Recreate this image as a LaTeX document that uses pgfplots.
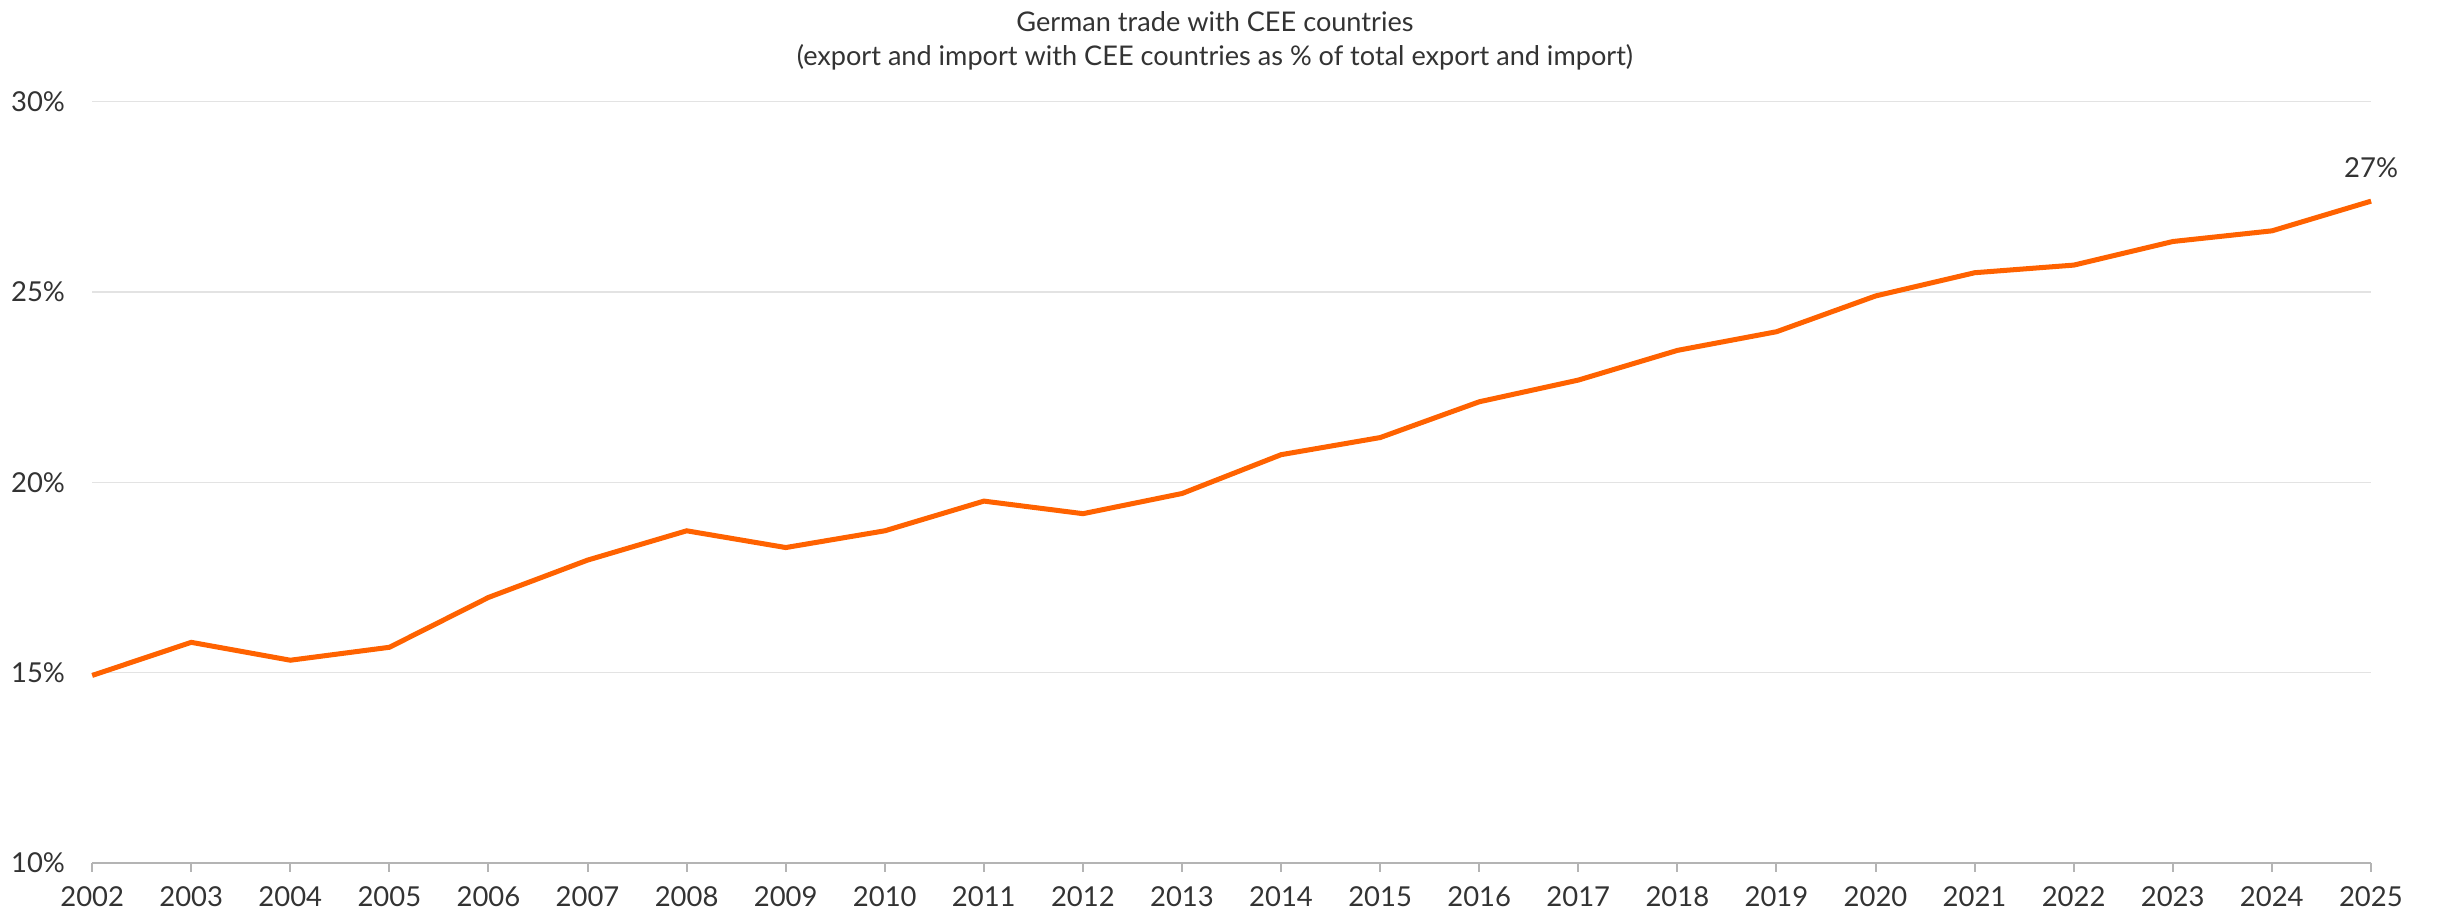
\documentclass[border=0pt]{standalone}
\usepackage{pgfplots}
\pgfplotsset{compat=1.18}
\usepackage{fontspec}
\setmainfont{Lato}
\definecolor{ingorange}{HTML}{FF6200}
\definecolor{gridgrey}{HTML}{E3E3E3}
\definecolor{axisgrey}{HTML}{B4B4B4}
\definecolor{textgrey}{HTML}{333333}
\begin{document}
\begin{tikzpicture}
\begin{axis}[
    width=681pt,
    height=227.5pt,
    scale only axis,
    xmin=2002, xmax=2025,
    ymin=10, ymax=30,
    xtick={2002,...,2025},
    ytick={10,15,20,25,30},
    yticklabel={\pgfmathprintnumber{\tick}\%},
    xticklabel style={/pgf/number format/1000 sep={}},
    /pgf/number format/assume math mode=true,
    tick label style={font=\fontsize{8.2}{9}\selectfont, text=textgrey},
    axis x line*=bottom,
    axis y line*=left,
    y axis line style={draw=none},
    x axis line style={axisgrey, line width=0.6pt},
    xtick style={axisgrey, line width=0.6pt},
    tick align=outside,
    major tick length=2.6pt,
    ymajorgrids,
    grid style={gridgrey, line width=0.4pt},
    ytick style={draw=none},
    yticklabel style={anchor=east, xshift=-2pt},
    xticklabel style={yshift=-1pt},
    clip=false,
    title={German trade with CEE countries\\(export and import with CEE countries as \% of total export and import)},
    title style={align=center, font=\fontsize{8.1}{10.2}\selectfont, text=textgrey, yshift=0pt, xshift=-5pt},
]
\addplot[ingorange, line width=1.5pt, mark=none] coordinates {
    (2002,14.93) (2003,15.80) (2004,15.33) (2005,15.67) (2006,16.98)
    (2007,17.96) (2008,18.73) (2009,18.29) (2010,18.73) (2011,19.51)
    (2012,19.18) (2013,19.71) (2014,20.73) (2015,21.18) (2016,22.12)
    (2017,22.69) (2018,23.47) (2019,23.96) (2020,24.90) (2021,25.51)
    (2022,25.71) (2023,26.33) (2024,26.61) (2025,27.39)
};
\node[font=\fontsize{8.2}{9}\selectfont, text=textgrey, anchor=south] at (axis cs:2025,27.7) {27\%};
\end{axis}
\path ([xshift=20pt]current axis.south east);
\end{tikzpicture}
\end{document}
